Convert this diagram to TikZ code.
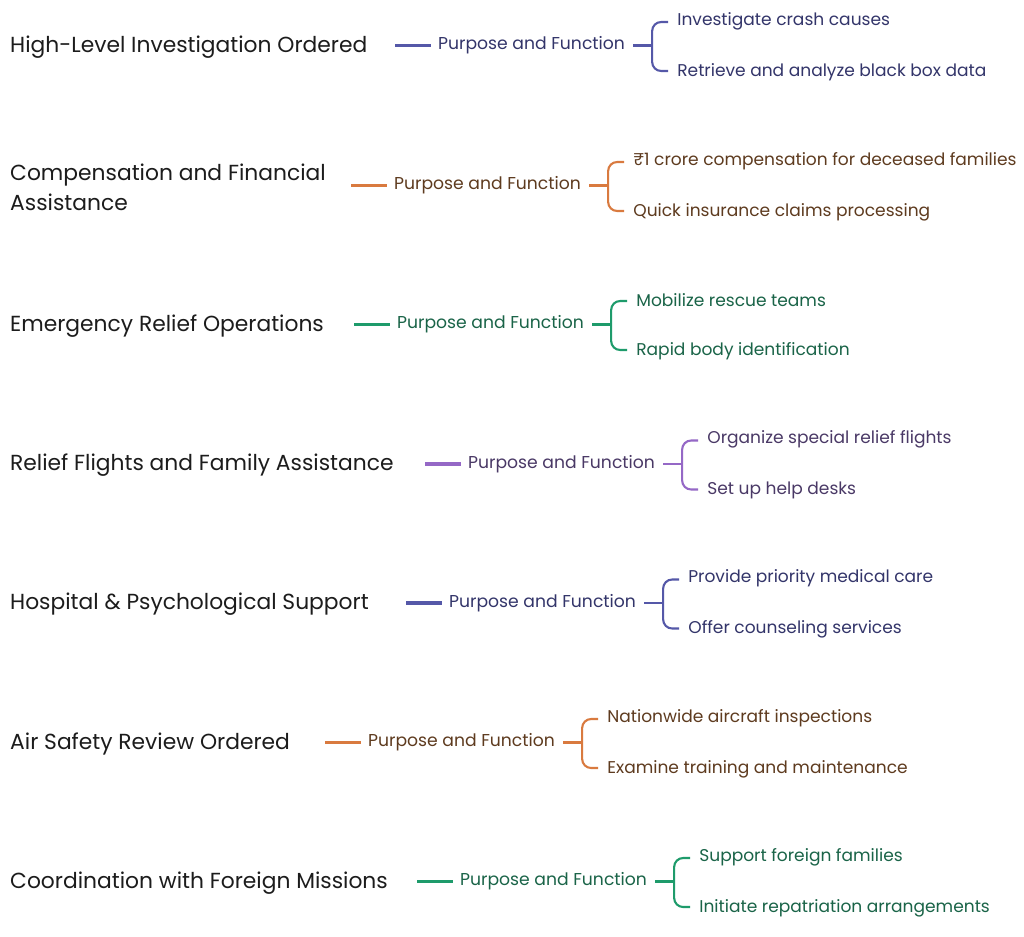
\documentclass[tikz,border=0pt]{standalone}
\usepackage{fontspec}
\setmainfont{Poppins}
\definecolor{cBlue}{HTML}{5558A8}
\definecolor{tBlue}{HTML}{33356A}
\definecolor{cOrange}{HTML}{D97A3F}
\definecolor{tOrange}{HTML}{5E3B1F}
\definecolor{cGreen}{HTML}{1E9B6B}
\definecolor{tGreen}{HTML}{1A6448}
\definecolor{cPurple}{HTML}{9568C6}
\definecolor{tPurple}{HTML}{4A3966}
\definecolor{tDark}{HTML}{1C1C1C}
\tikzset{
  x=1pt,y=-1pt,
  title/.style={anchor=west,inner sep=0pt,font=\fontsize{21.8}{30}\selectfont,text=tDark,align=left},
  pf/.style={anchor=west,inner sep=0pt,font=\fontsize{17.2}{20}\selectfont},
  child/.style={anchor=west,inner sep=0pt,font=\fontsize{17.05}{20}\selectfont},
  mainline/.style={line width=3.6pt},
  bracket/.style={line width=2.1pt,rounded corners=9pt},
}
\newcommand{\myrow}[8]{%
  % #1 name, #2 y, #3 title, #4 pf x, #5 line col, #6 text col, #7 child1, #8 child2
  \node[title] (t#1) at (10,#2+1.5) {#3};
  \node[pf,text=#6] (p#1) at (#4,#2) {Purpose and Function};
  \draw[mainline,#5] ([xshift=-43pt]p#1.west) -- ([xshift=-7pt]p#1.west);
  \coordinate (b#1) at ([xshift=27pt]p#1.east);
  \node[child,text=#6] (ca#1) at ([xshift=52pt,yshift=24.5pt]p#1.east) {#7};
  \node[child,text=#6] (cb#1) at ([xshift=52pt,yshift=-26.5pt]p#1.east) {#8};
  \draw[bracket,#5] ([xshift=8pt]p#1.east) -- (b#1);
  \draw[bracket,#5] ([xshift=-9pt,yshift=-1pt]ca#1.west) -| (b#1) |- ([xshift=-9pt,yshift=1pt]cb#1.west);
}
\begin{document}
\begin{tikzpicture}
\useasboundingbox (0,0) rectangle (1024,936);
\fill[white] (0,0) rectangle (1024,936);
\myrow{1}{45.5}{High-Level Investigation Ordered}{438}{cBlue}{tBlue}{Investigate crash causes}{Retrieve and analyze black box data}
\myrow{2}{185.5}{Compensation and Financial\\Assistance}{394}{cOrange}{tOrange}{₹1 crore compensation for deceased families}{Quick insurance claims processing}
\myrow{3}{324.5}{Emergency Relief Operations}{397}{cGreen}{tGreen}{Mobilize rescue teams}{Rapid body identification}
\myrow{4}{464}{Relief Flights and Family Assistance}{468}{cPurple}{tPurple}{Organize special relief flights}{Set up help desks}
\myrow{5}{603}{Hospital \& Psychological Support}{449}{cBlue}{tBlue}{Provide priority medical care}{Offer counseling services}
\myrow{6}{742.5}{Air Safety Review Ordered}{368}{cOrange}{tOrange}{Nationwide aircraft inspections}{Examine training and maintenance}
\myrow{7}{881.5}{Coordination with Foreign Missions}{460}{cGreen}{tGreen}{Support foreign families}{Initiate repatriation arrangements}
\end{tikzpicture}
\end{document}
